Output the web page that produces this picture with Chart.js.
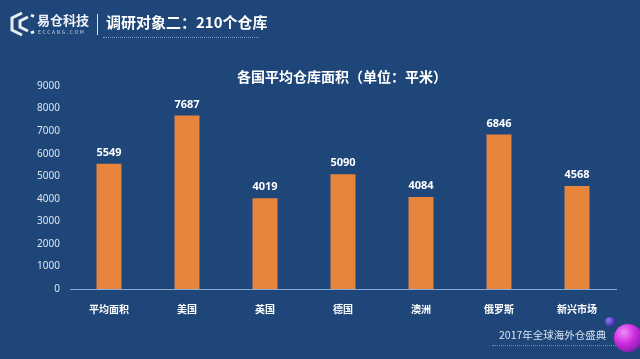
<!DOCTYPE html>
<html><head><meta charset="utf-8">
<script src="https://cdn.jsdelivr.net/npm/chart.js@4"></script>
<style>
html,body{margin:0;padding:0;background:#1f4678;width:640px;height:359px;overflow:hidden;font-family:"Noto Sans CJK SC","Noto Sans",sans-serif;}
#wrap{position:absolute;left:0;top:0;width:640px;height:359px;}
.abs{position:absolute;white-space:nowrap;}
</style></head><body>
<div id="wrap"><canvas id="c" width="640" height="359"></canvas></div>
<svg class="abs" style="left:8px;top:11px" width="28" height="26" viewBox="0 0 28 26">
 <path d="M14 2 L4 7 L4 19 L14 24" fill="none" stroke="#e8eef6" stroke-width="3"/>
 <path d="M20 6 L12 10 L12 16 L20 20" fill="none" stroke="#e8eef6" stroke-width="3"/>
 <path d="M23 4 L26 5.5 M23 22 L26 20.5" stroke="#e8eef6" stroke-width="3"/>
</svg>
<div class="abs" style="left:37px;top:12px;color:#eef2f8;font-size:13px;font-weight:bold;line-height:16px;">易仓科技</div>
<div class="abs" style="left:38px;top:29px;color:#c8d4e6;font-size:5px;letter-spacing:1.6px;line-height:6px;">ECCANG.COM</div>
<div class="abs" style="left:97px;top:14px;width:1px;height:21px;background:#d8e2f0;"></div>
<div class="abs" style="left:106px;top:13px;color:#ffffff;font-size:15px;font-weight:bold;line-height:18px;">调研对象二：210个仓库</div>
<div class="abs" style="left:103px;top:37px;width:156px;border-top:1px dotted #7f9cc4;"></div>
<div class="abs" style="left:499px;top:328px;color:#d8e2f0;font-size:10.5px;line-height:14px;">2017年全球海外仓盛典</div>
<div class="abs" style="left:492px;top:345px;width:124px;border-top:1px dotted #6f8cb8;"></div>
<svg class="abs" style="left:598px;top:308px" width="42" height="51" viewBox="0 0 42 51">
 <defs>
  <radialGradient id="g1" cx="0.35" cy="0.3" r="0.8"><stop offset="0" stop-color="#f08cf6"/><stop offset="0.5" stop-color="#d02ce0"/><stop offset="1" stop-color="#7a1aa8"/></radialGradient>
  <radialGradient id="g2" cx="0.35" cy="0.3" r="0.8"><stop offset="0" stop-color="#8a7cf0"/><stop offset="1" stop-color="#3a1c9a"/></radialGradient>
 </defs>
 <circle cx="12" cy="14" r="5" fill="url(#g2)"/>
 <circle cx="30" cy="30" r="14" fill="url(#g1)"/>
</svg>
<script>
const categories = ["平均面积","美国","英国","德国","澳洲","俄罗斯","新兴市场"];
const areaValues = [5549,7687,4019,5090,4084,6846,4568];
const yTicks = [0,1000,2000,3000,4000,5000,6000,7000,8000,9000];
const chartTitle = "各国平均仓库面积（单位：平米）";

const labelPlugin = {
  id:'barLabels',
  afterDatasetsDraw(chart){
    const ctx = chart.ctx;
    const meta = chart.getDatasetMeta(0);
    ctx.save();
    ctx.fillStyle = '#ffffff';
    ctx.font = 'bold 11px "Noto Sans","Noto Sans CJK SC",sans-serif';
    ctx.textAlign = 'center';
    ctx.textBaseline = 'middle';
    meta.data.forEach((bar,i)=>{
      ctx.fillText(String(areaValues[i]), bar.x, bar.y - 11);
    });
    ctx.restore();
  }
};

new Chart(document.getElementById('c'), {
  type:'bar',
  data:{labels:categories, datasets:[{data:areaValues, backgroundColor:'#e8853c', borderWidth:0, barPercentage:0.64, categoryPercentage:0.5}]},
  options:{
    responsive:false, animation:false,
    layout:{padding:{left:10,right:24,top:86,bottom:30}},
    plugins:{
      legend:{display:false}, tooltip:{enabled:false},
      title:{display:false}
    },
    scales:{
      x:{
        grid:{display:false, drawTicks:false},
        border:{display:true, color:'#8aaad6', width:1},
        ticks:{color:'#ffffff', padding:14, font:{size:10, weight:'bold', family:'"Noto Sans CJK SC",sans-serif'}, maxRotation:0}
      },
      y:{
        min:0, max:9000,
        afterBuildTicks(s){ s.ticks = yTicks.map(v=>({value:v})); },
        afterFit(s){ s.width = 60; },
        grid:{display:false, drawTicks:false},
        border:{display:false},
        ticks:{color:'#dbe4f0', padding:10, font:{size:10, family:'"Noto Sans",sans-serif'}, callback:(v)=>String(v)}
      }
    }
  },
  plugins:[labelPlugin, {
    id:'titleText',
    afterDraw(chart){
      const ctx = chart.ctx;
      ctx.save();
      ctx.fillStyle='#ffffff';
      ctx.font='bold 14px "Noto Sans CJK SC",sans-serif';
      ctx.textAlign='center'; ctx.textBaseline='middle';
      ctx.fillText(chartTitle, 342, 77);
      ctx.restore();
    }
  }]
});
</script>
</body></html>
